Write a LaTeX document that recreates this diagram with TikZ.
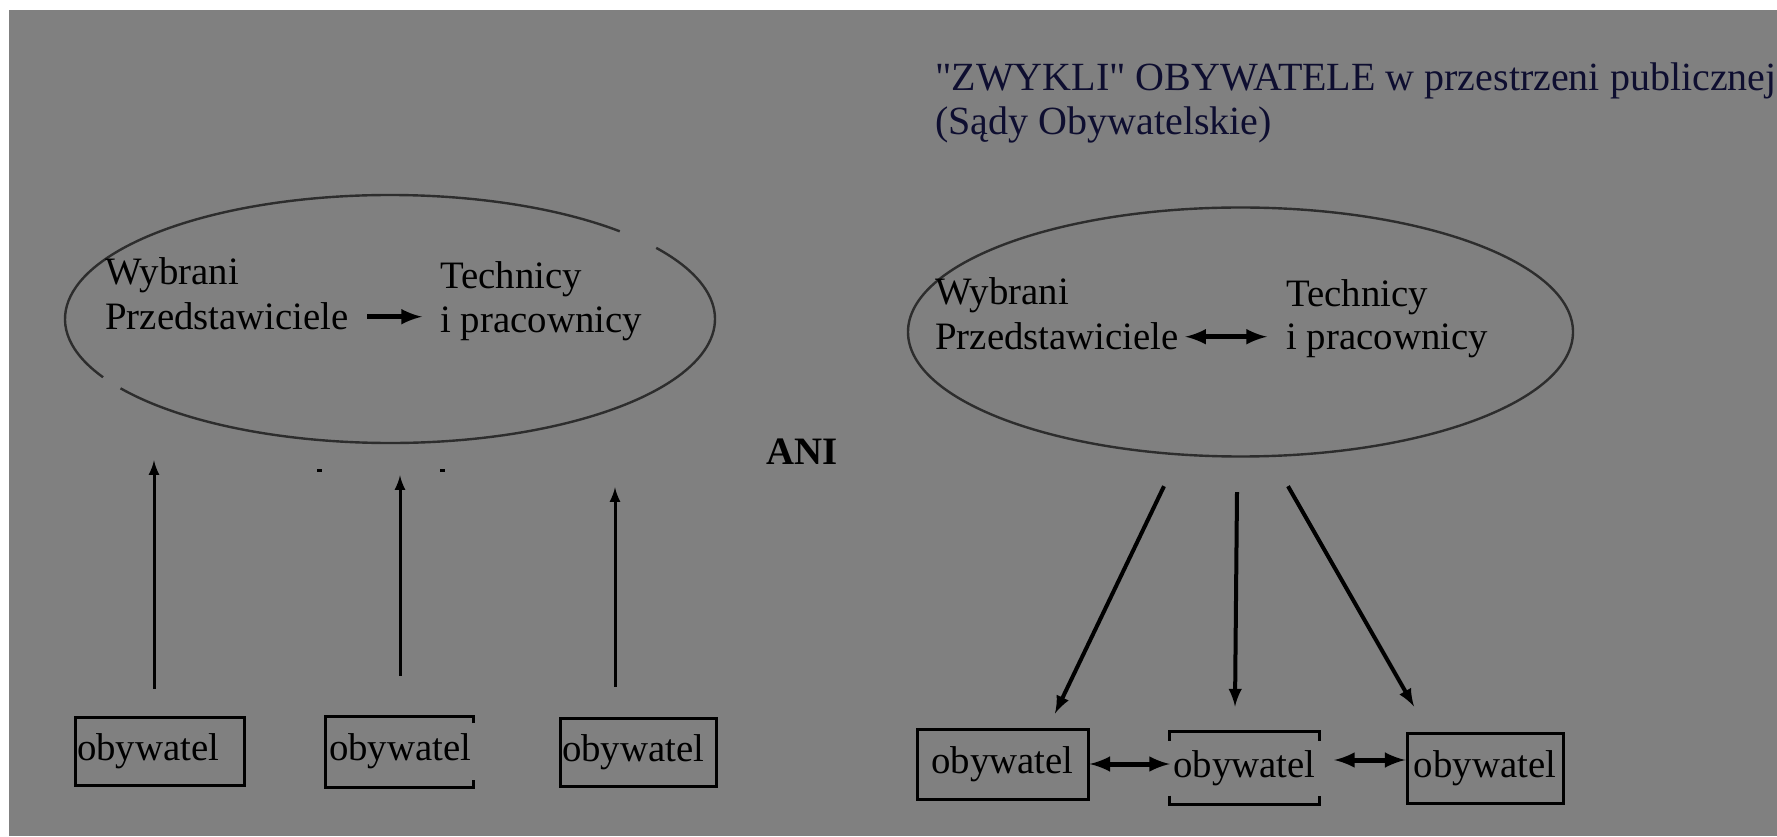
\documentclass[tikz,border=0pt]{standalone}
\usepackage{fontspec}
\setmainfont{Liberation Serif}[Ligatures=TeXOff]
\usepackage{tikz}
\usetikzlibrary{arrows,shapes.geometric}
\definecolor{bggray}{RGB}{128,128,128}
\definecolor{titleblue}{RGB}{14,14,48}
\definecolor{ringgray}{RGB}{45,45,45}

\begin{document}
\begin{tikzpicture}[x=0.5pt,y=0.5pt]
\tikzstyle{every node}=[font=\fontsize{19.4}{22}\selectfont, inner sep=0pt]
\tikzstyle{ringline}=[draw=ringgray, line width=1.2pt]
\tikzstyle{citbox}=[line width=1.5pt, minimum height=34pt, inner xsep=1pt]
\tikzstyle{uparr}=[-latex, line width=1.5pt]

% background
\fill[white] (0,0) rectangle (1777,836);
\fill[bggray] (9,0) rectangle (1777,826);
\useasboundingbox (0,0) rectangle (1777,836);

% left: ellipse (with the two breaks)
\node[ellipse, minimum width=325pt, minimum height=124pt] at (390,517) (lell) {};
\draw[ringline] (lell.center) ++(45:325 and 124) arc[start angle=45, end angle=208, x radius=325, y radius=124];
\draw[ringline] (lell.center) ++(214:325 and 124) arc[start angle=214, end angle=395, x radius=325, y radius=124];

\node[anchor=base west] at (105,551) (lwyb) {Wybrani};
\node[anchor=base west] at (105,506) (lprz) {Przedstawiciele};
\node[anchor=base west] at (440,547) (ltech) {Technicy};
\node[anchor=base west] at (440,503) (lprac) {i pracownicy};
\draw[-latex, line width=2.5pt, shorten <=9pt, shorten >=9pt] (lprz.east) -- (lprz.east -| lprac.west);

\node[anchor=base west, font=\fontsize{19.4}{22}\selectfont\bfseries] at (766,371) (ani) {ANI};

% left: citizens
\node[citbox, draw, align=left, text width=82.5pt] at (159.5,85) (lb1) {obywatel};
\node[citbox, align=left, text width=70.5pt] at (399.5,84.5) (lb2) {obywatel};
\node[citbox, draw, align=left, text width=76pt] at (638,84) (lb3) {obywatel};
\draw[line width=1.5pt] ([yshift=-3.5pt]lb2.north east) -- (lb2.north east) -- (lb2.north west)
  -- (lb2.south west) -- (lb2.south east) -- ([yshift=3.5pt]lb2.south east);

\draw[uparr] ([xshift=-2.75pt,yshift=13.5pt]lb1.north) -- ([xshift=-118pt,yshift=-8.5pt]lell.south);
\draw[uparr] ([xshift=0.25pt,yshift=20.25pt]lb2.north) -- ([xshift=5pt,yshift=-16pt]lell.south);
\draw[uparr] ([xshift=-11.5pt,yshift=15pt]lb3.north) -- ([xshift=112.5pt,yshift=-22pt]lell.south);

\fill (317,364) rectangle (322,367);
\fill (440,364) rectangle (445,367);

% right
\node[anchor=base west, text=titleblue, font=\fontsize{20}{22}\selectfont] at (935,745) (title) {"ZWYKLI" OBYWATELE w przestrzeni publicznej};
\node[anchor=base west, text=titleblue, font=\fontsize{20}{22}\selectfont] at (935,701) (subtitle) {(Sądy Obywatelskie)};

\node[ellipse, ringline, minimum width=332.5pt, minimum height=124.5pt] at (1240.5,504) (rell) {};

\node[anchor=base west] at (935,531) (rwyb) {Wybrani};
\node[anchor=base west] at (935,486) (rprz) {Przedstawiciele};
\node[anchor=base west] at (1286,529) (rtech) {Technicy};
\node[anchor=base west] at (1286,486) (rprac) {i pracownicy};
\draw[latex-latex, line width=2.5pt, shorten <=3pt, shorten >=9.5pt] (rprz.east) -- (rprz.east -| rprac.west);

\node[citbox, draw, minimum height=35pt, minimum width=85.5pt] at (1002.5,72) (rb1) {obywatel};
\node[citbox, minimum height=35pt, minimum width=71.5pt] at (1244.5,68) (rb2) {obywatel};
\node[citbox, draw, minimum height=35pt, minimum width=78pt] at (1485,68) (rb3) {obywatel};
\draw[line width=1.5pt] ([yshift=-4.5pt]rb2.north west) -- (rb2.north west) -- (rb2.north east) -- ([yshift=-4.5pt]rb2.north east);
\draw[line width=1.5pt] ([yshift=4.5pt]rb2.south west) -- (rb2.south west) -- (rb2.south east) -- ([yshift=4.5pt]rb2.south east);

\draw[-latex, line width=2pt] ([xshift=-38.25pt,yshift=-14.25pt]rell.south) -- ([xshift=26.25pt,yshift=7pt]rb1.north);
\draw[-latex, line width=2pt] ([xshift=-1.75pt,yshift=-17.25pt]rell.south) -- ([xshift=-4.75pt,yshift=12.5pt]rb2.north);
\draw[-latex, line width=2pt] ([xshift=23.75pt,yshift=-14.25pt]rell.south) -- ([xshift=-35.5pt,yshift=12.5pt]rb3.north);

\draw[latex-latex, line width=2.5pt] (rb1.east) -- (rb1.east -| rb2.west);
\draw[latex-latex, line width=2.5pt, shorten <=7.5pt] ([yshift=4pt]rb2.east) -- ([yshift=4pt]rb3.west);

\end{tikzpicture}
\end{document}
